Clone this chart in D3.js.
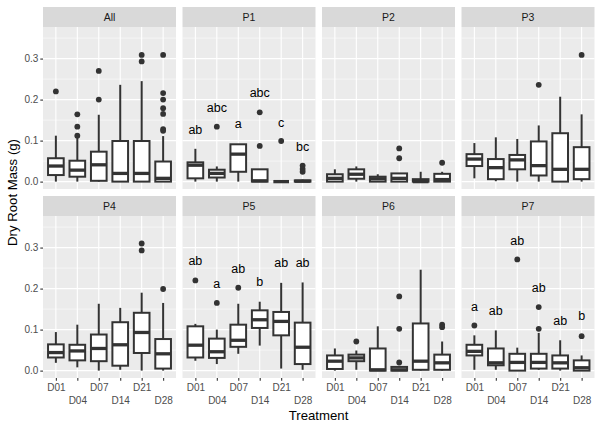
<!DOCTYPE html>
<html><head><meta charset="utf-8">
<script src="https://cdn.jsdelivr.net/npm/d3@7"></script>
<style>body{margin:0;background:#fff}svg{display:block}text{font-family:Arial,"Liberation Sans",sans-serif}</style>
</head><body><svg id="c" width="600" height="426"></svg>
<script>
const panels = ["All","P1","P2","P3","P4","P5","P6","P7"];
const days = ["D01","D04","D07","D14","D21","D28"];
const yTicks = [0, 0.1, 0.2, 0.3];
const yTickLabels = ["0.0","0.1","0.2","0.3"];
// per panel, per day
const whiskerLow = [
 [0,0,0,0,0,0],
 [0,0,0,0,0,0],
 [0,0,0,0,0,0],
 [0.008,0.001,0,0,0,0],
 [0.019,0.008,0,0.002,0,0],
 [0.024,0.016,0.041,0.061,0.005,0.002],
 [0,0.002,0,0,0,0],
 [0.002,0.002,0,0.002,0,0]];
const q1 = [
 [0.016,0.012,0.002,0,0,0],
 [0.008,0.01,0.024,0,0,0],
 [0,0.007,0,0,0,0],
 [0.038,0.006,0.03,0.015,0,0.006],
 [0.032,0.025,0.023,0.012,0.043,0.005],
 [0.032,0.031,0.058,0.104,0.086,0.016],
 [0.004,0.023,0,0,0.002,0.002],
 [0.037,0.013,0,0.005,0.005,0]];
const median = [
 [0.038,0.028,0.041,0.02,0.02,0.008],
 [0.04,0.02,0.067,0.002,0,0.001],
 [0.008,0.018,0.007,0.008,0,0.005],
 [0.055,0.034,0.053,0.039,0.03,0.03],
 [0.044,0.048,0.054,0.063,0.093,0.041],
 [0.062,0.046,0.074,0.124,0.12,0.057],
 [0.023,0.031,0.002,0.002,0.023,0.019],
 [0.047,0.019,0.02,0.02,0.019,0.007]];
const q3 = [
 [0.057,0.051,0.073,0.099,0.099,0.049],
 [0.047,0.029,0.091,0.03,0,0.003],
 [0.018,0.03,0.012,0.02,0.006,0.019],
 [0.067,0.055,0.065,0.098,0.118,0.084],
 [0.064,0.063,0.088,0.118,0.141,0.077],
 [0.108,0.078,0.112,0.147,0.143,0.117],
 [0.037,0.039,0.054,0.009,0.115,0.039],
 [0.063,0.054,0.041,0.041,0.037,0.025]];
const whiskerHigh = [
 [0.112,0.108,0.163,0.236,0.245,0.111],
 [0.08,0.037,0.091,0.03,0,0.005],
 [0.03,0.037,0.018,0.02,0.024,0.024],
 [0.094,0.108,0.104,0.137,0.207,0.164],
 [0.094,0.112,0.163,0.153,0.19,0.165],
 [0.114,0.1,0.163,0.168,0.214,0.215],
 [0.054,0.049,0.108,0.012,0.246,0.071],
 [0.086,0.098,0.056,0.092,0.074,0.037]];
const outliers = [
 [[0.22],[0.164,0.134,0.112],[0.27,0.2],[],[0.309,0.293],[0.309,0.216,0.2,0.179,0.165,0.128,0.124]],
 [[],[0.134],[],[0.169,0.087],[0.099],[0.039,0.031,0.024]],
 [[],[],[],[0.081,0.057],[],[0.046]],
 [[],[],[],[0.236],[],[0.309]],
 [[],[],[],[],[0.31,0.293],[0.199]],
 [[0.22],[0.165],[0.202],[],[],[]],
 [[],[0.071],[],[0.181,0.102,0.02],[],[0.112,0.106]],
 [[0.11],[],[0.271],[0.155,0.102],[],[0.084]]];
const letters = [
 null,
 ["ab","abc","a","abc","c","bc"],
 null,null,null,
 ["ab","a","ab","b","ab","ab"],
 null,
 ["a","ab","ab","ab","ab","b"]];
const letterY = [
 null,
 [0.126,0.181,0.141,0.216,0.145,0.085],
 null,null,null,
 [0.268,0.211,0.249,0.216,0.263,0.264],
 null,
 [0.157,0.147,0.318,0.203,0.123,0.133]];
const minorTicks = [0.05,0.15,0.25,0.35];

const svg = d3.select("#c");
const left0 = 43, colStep = 139.5, pw = 133, stripH = 20, ph = 162;
const rowTop = [7, 196];
const dark = "#333333";

panels.forEach((name, p) => {
  const col = p % 4, row = Math.floor(p / 4);
  const x0 = left0 + col * colStep;
  const sTop = rowTop[row];
  const pTop = sTop + stripH, pBot = pTop + ph;
  const x = d3.scalePoint().domain(days).range([x0, x0 + pw]).padding(0.6);
  const y = d3.scaleLinear().domain([-0.018, 0.377]).range([pBot, pTop]);
  const g = svg.append("g");
  // strip
  g.append("rect").attr("x", x0).attr("y", sTop).attr("width", pw).attr("height", stripH).attr("fill", "#D9D9D9");
  g.append("text").attr("x", x0 + pw / 2).attr("y", sTop + stripH / 2).attr("dy", "0.35em")
    .attr("text-anchor", "middle").attr("font-size", 10.5).attr("fill", "#1A1A1A").text(name);
  // panel bg
  g.append("rect").attr("x", x0).attr("y", pTop).attr("width", pw).attr("height", ph).attr("fill", "#EBEBEB");
  g.selectAll(".mn").data(minorTicks).join("line")
    .attr("x1", x0).attr("x2", x0 + pw).attr("y1", d => y(d)).attr("y2", d => y(d))
    .attr("stroke", "#fff").attr("stroke-width", 0.55);
  g.selectAll(".mj").data(yTicks).join("line")
    .attr("x1", x0).attr("x2", x0 + pw).attr("y1", d => y(d)).attr("y2", d => y(d))
    .attr("stroke", "#fff").attr("stroke-width", 1.1);
  g.selectAll(".vx").data(days).join("line")
    .attr("x1", d => x(d)).attr("x2", d => x(d)).attr("y1", pTop).attr("y2", pBot)
    .attr("stroke", "#fff").attr("stroke-width", 1.1);
  // boxes
  const bw = x.step() * 0.73;
  days.forEach((d, i) => {
    const cx = x(d);
    g.append("line").attr("x1", cx).attr("x2", cx).attr("y1", y(whiskerHigh[p][i])).attr("y2", y(q3[p][i]))
      .attr("stroke", dark).attr("stroke-width", 2);
    g.append("line").attr("x1", cx).attr("x2", cx).attr("y1", y(q1[p][i])).attr("y2", y(whiskerLow[p][i]))
      .attr("stroke", dark).attr("stroke-width", 2);
    g.append("rect").attr("x", cx - bw / 2).attr("y", y(q3[p][i])).attr("width", bw)
      .attr("height", Math.max(0, y(q1[p][i]) - y(q3[p][i])))
      .attr("fill", "#fff").attr("stroke", dark).attr("stroke-width", 2);
    g.append("line").attr("x1", cx - bw / 2).attr("x2", cx + bw / 2).attr("y1", y(median[p][i])).attr("y2", y(median[p][i]))
      .attr("stroke", dark).attr("stroke-width", 3.3);
    g.selectAll(null).data(outliers[p][i]).join("circle")
      .attr("cx", cx).attr("cy", v => y(v)).attr("r", 2.9).attr("fill", dark);
    if (letters[p]) {
      g.append("text").attr("x", cx).attr("y", y(letterY[p][i])).attr("dy", "0.35em")
        .attr("text-anchor", "middle").attr("font-size", 12.5).attr("fill", "#000").text(letters[p][i]);
    }
  });
  // y axis on left column
  if (col === 0) {
    const ax = g.append("g").attr("transform", `translate(${x0},0)`)
      .call(d3.axisLeft(y).tickValues(yTicks).tickFormat((d, i) => yTickLabels[i]).tickSize(2.7).tickPadding(2));
    ax.select(".domain").remove();
    ax.selectAll("line").attr("stroke", dark).attr("stroke-width", 1.1);
    ax.selectAll("text").attr("font-size", 10).attr("fill", "#4D4D4D").attr("font-family", "Arial, 'Liberation Sans', sans-serif");
  }
  // x axis on bottom row
  if (row === 1) {
    const ax = g.append("g").attr("transform", `translate(0,${pBot})`)
      .call(d3.axisBottom(x).tickSize(2.7).tickPadding(2));
    ax.select(".domain").remove();
    ax.selectAll("line").attr("stroke", dark).attr("stroke-width", 1.1);
    ax.selectAll("text").attr("font-size", 10).attr("fill", "#4D4D4D")
      .attr("font-family", "Arial, 'Liberation Sans', sans-serif")
      .attr("y", (d, i) => i % 2 === 0 ? 6 : 19);
  }
});
svg.append("text").attr("x", 318.5).attr("y", 415.5).attr("dy", "0.35em").attr("text-anchor", "middle")
  .attr("font-size", 13.2).attr("fill", "#000").text("Treatment");
svg.append("text").attr("transform", "translate(12.5,192.5) rotate(-90)").attr("dy", "0.35em").attr("text-anchor", "middle")
  .attr("font-size", 13.2).attr("fill", "#000").text("Dry Root Mass (g)");
</script></body></html>
